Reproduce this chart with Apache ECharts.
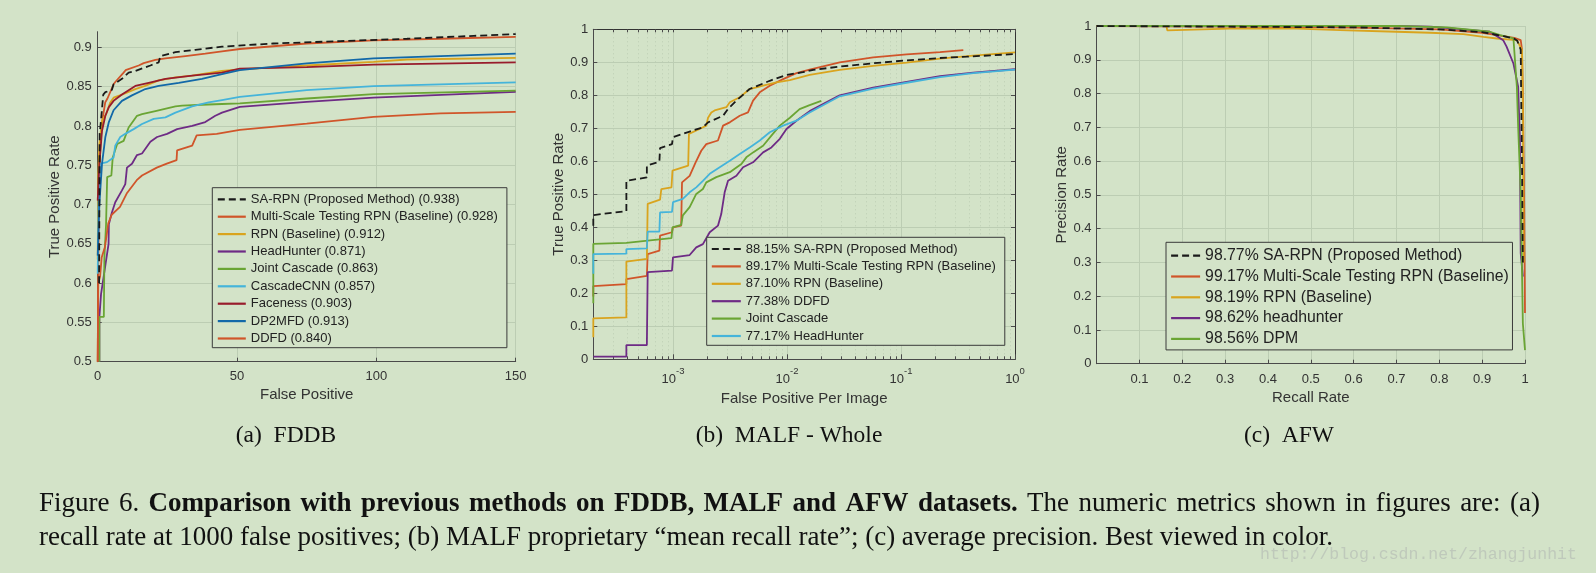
<!DOCTYPE html>
<html><head><meta charset="utf-8">
<script src="https://cdn.jsdelivr.net/npm/echarts/dist/echarts.min.js"></script>
<style>html,body{margin:0;padding:0;background:#d3e3c8;}#c{width:1596px;height:573px;}</style>
</head><body><div id="c"></div>
<script>
// ---------------- DATA ----------------
// (a) FDDB : [false positives, true positive rate]
const fddbSaRpn = [[0.5,0.6],[0.6,0.7],[0.7,0.79],[1.0,0.80],[2.0,0.84],[2.75,0.843],[5.1,0.846],[5.7,0.853],[8.7,0.86],[11.1,0.868],[13.5,0.87],[18.9,0.877],[21.9,0.881],[22.5,0.889],[27.9,0.894],[35,0.897],[44.6,0.901],[63,0.905],[87,0.908],[111,0.911],[135,0.9147],[150,0.917]];
const fddbMulti = [[0,0.5],[0.2,0.62],[0.5,0.72],[1.0,0.78],[1.8,0.81],[2.7,0.83],[3.5,0.835],[5.7,0.853],[6.3,0.856],[9.3,0.868],[10,0.871],[14.7,0.877],[16.5,0.88],[20.7,0.884],[24.3,0.886],[31.5,0.889],[38.6,0.892],[44.6,0.895],[51,0.898],[75,0.905],[99,0.909],[123,0.911],[150,0.9135]];
const fddbRpn = [[0,0.63],[0.2,0.739],[0.6,0.777],[1.55,0.807],[3.0,0.815],[4.5,0.83],[5.7,0.836],[8.7,0.84],[13.5,0.847],[17,0.851],[21.9,0.858],[27.9,0.862],[33.9,0.864],[44.6,0.87],[51,0.872],[75,0.877],[99,0.8817],[111,0.8846],[150,0.8868]];
const fddbHeadHunter = [[0.6,0.5],[0.6,0.557],[1.2,0.586],[2.8,0.624],[3.9,0.65],[4.0,0.675],[5.1,0.69],[6.3,0.703],[8.7,0.718],[9.9,0.726],[10.5,0.747],[12.3,0.752],[14.1,0.763],[15.9,0.765],[18.9,0.78],[21.3,0.786],[24.9,0.79],[28.5,0.796],[33.9,0.8],[38.6,0.805],[42.2,0.813],[44.6,0.817],[51,0.8244],[75,0.8308],[99,0.836],[150,0.8435]];
const fddbJoint = [[0.6,0.5],[0.6,0.557],[2.2,0.557],[2.4,0.633],[3.0,0.675],[3.4,0.735],[4.9,0.737],[5.4,0.76],[7.0,0.777],[9.3,0.781],[11.1,0.798],[12.9,0.807],[14.1,0.813],[15.9,0.815],[20.7,0.819],[27.9,0.825],[30.3,0.826],[37.4,0.827],[44.6,0.828],[51,0.8287],[75,0.835],[99,0.8405],[150,0.845]];
const fddbCascadeCnn = [[0,0.612],[0.35,0.705],[0.95,0.752],[3.35,0.754],[5.7,0.76],[6.3,0.775],[8.1,0.786],[9.9,0.79],[12.9,0.796],[15.9,0.8025],[20.1,0.809],[24.3,0.811],[27.9,0.817],[33.9,0.825],[39.8,0.83],[44.6,0.833],[51,0.837],[75,0.8456],[99,0.8507],[150,0.8554]];
const fddbFaceness = [[0,0.705],[0.6,0.752],[1.55,0.794],[2.75,0.813],[4.0,0.824],[5.7,0.832],[8.7,0.84],[13.5,0.851],[18.3,0.855],[24.3,0.86],[33.9,0.864],[44.6,0.868],[51,0.873],[75,0.875],[99,0.878],[150,0.881]];
const fddbDp2mfd = [[0,0.635],[0.6,0.70],[1.55,0.752],[2.75,0.786],[4.0,0.805],[5.7,0.82],[8.7,0.832],[12.3,0.839],[17.1,0.847],[21.9,0.851],[29.1,0.855],[37.4,0.86],[44.6,0.866],[51,0.871],[75,0.8796],[99,0.886],[123,0.889],[150,0.892]];
const fddbDdfd = [[0,0.5],[0.2,0.6],[0.84,0.608],[1.44,0.633],[2.6,0.646],[3.8,0.676],[5.0,0.687],[8.0,0.697],[10.4,0.714],[14,0.731],[15.9,0.737],[21.2,0.747],[24.8,0.752],[28.3,0.7566],[28.5,0.769],[33.9,0.775],[35.5,0.788],[42.7,0.79],[51,0.795],[75,0.803],[99,0.8117],[123,0.816],[150,0.818]];
const fddbNames = ['SA-RPN (Proposed Method) (0.938)','Multi-Scale Testing RPN (Baseline) (0.928)','RPN (Baseline) (0.912)','HeadHunter (0.871)','Joint Cascade (0.863)','CascadeCNN (0.857)','Faceness (0.903)','DP2MFD (0.913)','DDFD (0.840)'];
const fddbXTicks = [0, 50, 100, 150];
const fddbYTicks = [0.5,0.55,0.6,0.65,0.7,0.75,0.8,0.85,0.9];

// (b) MALF : [false positives per image, true positive rate]
const malfSaRpn = [[2e-4,0.405],[2e-4,0.437],[3.9e-4,0.449],[3.9e-4,0.541],[5.9e-4,0.551],[5.9e-4,0.587],[7.6e-4,0.599],[7.7e-4,0.64],[9.8e-4,0.652],[1e-3,0.673],[1.4e-3,0.69],[1.83e-3,0.703],[2.03e-3,0.718],[2.75e-3,0.738],[3.04e-3,0.759],[3.6e-3,0.784],[4.7e-3,0.819],[7.06e-3,0.844],[9.9e-3,0.862],[1.38e-2,0.87],[1.7e-2,0.877],[2.9e-2,0.887],[5.7e-2,0.897],[0.112,0.906],[0.22,0.913],[0.376,0.917],[1,0.925]];
const malfMulti = [[2e-4,0.19],[2e-4,0.222],[3.9e-4,0.228],[3.9e-4,0.243],[5.9e-4,0.253],[6e-4,0.319],[7.6e-4,0.329],[7.7e-4,0.375],[9.8e-4,0.385],[1e-3,0.4],[1.18e-3,0.405],[1.2e-3,0.536],[1.4e-3,0.556],[1.58e-3,0.597],[1.77e-3,0.632],[1.96e-3,0.652],[2.48e-3,0.663],[2.75e-3,0.708],[3.15e-3,0.718],[3.85e-3,0.738],[4.55e-3,0.748],[5.04e-3,0.784],[5.77e-3,0.809],[7.06e-3,0.829],[9.25e-3,0.849],[1.21e-2,0.867],[1.58e-2,0.878],[2.9e-2,0.9],[5.7e-2,0.915],[0.112,0.924],[0.22,0.931],[0.352,0.937]];
const malfRpn = [[2e-4,0.067],[2e-4,0.124],[3.9e-4,0.127],[3.9e-4,0.296],[5.9e-4,0.304],[6e-4,0.471],[7.7e-4,0.484],[7.9e-4,0.516],[9.7e-4,0.521],[9.9e-4,0.572],[1.36e-3,0.587],[1.38e-3,0.683],[1.71e-3,0.698],[1.96e-3,0.708],[2.03e-3,0.732],[2.17e-3,0.748],[2.32e-3,0.754],[2.94e-3,0.764],[3.15e-3,0.779],[3.85e-3,0.794],[4.71e-3,0.819],[6.17e-3,0.829],[8.07e-3,0.839],[1.06e-2,0.846],[1.58e-2,0.862],[2.9e-2,0.877],[5.7e-2,0.889],[0.112,0.899],[0.22,0.911],[0.43,0.92],[1,0.93]];
const malfDdfd = [[2e-4,0.008],[3.9e-4,0.008],[3.9e-4,0.043],[5.9e-4,0.043],[6e-4,0.264],[9.8e-4,0.269],[1e-3,0.309],[1.4e-3,0.316],[1.6e-3,0.339],[1.83e-3,0.349],[2.1e-3,0.385],[2.48e-3,0.405],[2.65e-3,0.44],[2.84e-3,0.506],[3.04e-3,0.541],[3.6e-3,0.556],[4.12e-3,0.582],[5.04e-3,0.597],[6.17e-3,0.627],[7.3e-3,0.642],[8.65e-3,0.668],[9.9e-3,0.698],[1.21e-2,0.723],[1.58e-2,0.752],[2.9e-2,0.8],[5.7e-2,0.823],[0.112,0.841],[0.22,0.858],[0.43,0.869],[1,0.879]];
const malfJoint = [[2e-4,0.17],[2e-4,0.35],[3.9e-4,0.353],[4e-4,0.357],[9.7e-4,0.367],[9.9e-4,0.4],[1.18e-3,0.407],[1.22e-3,0.436],[1.4e-3,0.461],[1.6e-3,0.501],[1.83e-3,0.516],[1.96e-3,0.536],[2.4e-3,0.552],[3.15e-3,0.567],[3.98e-3,0.592],[4.4e-3,0.612],[5.04e-3,0.627],[6.17e-3,0.647],[7.3e-3,0.678],[8.65e-3,0.708],[1.06e-2,0.732],[1.29e-2,0.758],[1.58e-2,0.77],[2.0e-2,0.783]];
const malfHeadHunter = [[2e-4,0.259],[2e-4,0.319],[3.9e-4,0.32],[3.9e-4,0.334],[5.9e-4,0.336],[6e-4,0.387],[7.6e-4,0.387],[7.7e-4,0.445],[9.8e-4,0.447],[1e-3,0.476],[1.22e-3,0.486],[1.4e-3,0.506],[1.6e-3,0.521],[1.83e-3,0.541],[2.1e-3,0.562],[2.57e-3,0.582],[3.15e-3,0.602],[3.85e-3,0.622],[4.71e-3,0.642],[5.77e-3,0.663],[7.06e-3,0.688],[9.25e-3,0.708],[1.21e-2,0.723],[1.58e-2,0.748],[2.9e-2,0.797],[5.7e-2,0.82],[0.112,0.838],[0.22,0.855],[0.43,0.867],[1,0.878]];
const malfNames = ['88.15% SA-RPN (Proposed Method)','89.17% Multi-Scale Testing RPN (Baseline)','87.10% RPN (Baseline)','77.38% DDFD','Joint Cascade','77.17% HeadHunter'];
const malfXMin = 2e-4;
const malfXTickExponents = [-3, -2, -1, 0];
const malfYTicks = [0,0.1,0.2,0.3,0.4,0.5,0.6,0.7,0.8,0.9,1];

// (c) AFW : [recall, precision]
const afwSaRpn = [[0,1],[0.3,0.998],[0.6,0.996],[0.8,0.99],[0.9,0.982],[0.95,0.97],[0.975,0.962],[0.982,0.956],[0.99,0.93],[0.991,0.8],[0.993,0.6],[0.995,0.3]];
const afwMulti = [[0,1],[0.3,0.998],[0.6,0.995],[0.8,0.99],[0.9,0.98],[0.95,0.97],[0.975,0.965],[0.99,0.958],[0.993,0.93],[0.995,0.8],[0.997,0.6],[0.998,0.48],[1.0,0.48],[1.0,0.15]];
const afwRpn = [[0,1],[0.163,1],[0.165,0.987],[0.311,0.992],[0.467,0.992],[0.568,0.988],[0.70,0.983],[0.778,0.98],[0.856,0.976],[0.903,0.968],[0.934,0.963],[0.981,0.958],[0.993,0.929],[0.995,0.77],[0.997,0.3]];
const afwHeadhunter = [[0,1],[0.693,1],[0.78,0.998],[0.856,0.99],[0.918,0.983],[0.949,0.958],[0.957,0.939],[0.973,0.889],[0.984,0.82],[0.988,0.672],[0.99,0.327],[0.995,0.258]];
const afwDpm = [[0,1],[0.70,1],[0.817,0.996],[0.918,0.983],[0.942,0.973],[0.973,0.963],[0.977,0.958],[0.981,0.82],[0.984,0.702],[0.99,0.504],[0.995,0.119],[1.0,0.04]];
const afwNames = ['98.77% SA-RPN (Proposed Method)','99.17% Multi-Scale Testing RPN (Baseline)','98.19% RPN (Baseline)','98.62% headhunter','98.56% DPM'];

const subCaptions = ['(a)  FDDB', '(b)  MALF - Whole', '(c)  AFW'];
const captionLine1Regular1 = 'Figure 6.';
const captionLine1Bold = 'Comparison with previous methods on FDDB, MALF and AFW datasets.';
const captionLine1Regular2 = 'The numeric metrics shown in figures are: (a)';
const captionLine2 = 'recall rate at 1000 false positives; (b) MALF proprietary \u201cmean recall rate\u201d; (c) average precision. Best viewed in color.';
const watermark = 'http://blog.csdn.net/zhangjunhit';

// ---------------- STYLE ----------------
const BG = '#d3e3c8', GRID = '#bccdb3', AX = '#4a4a4a', TXT = '#333';
const SANS = '"Liberation Sans", Arial, sans-serif';
const SERIF = '"Liberation Serif", "Times New Roman", serif';
const MONO = '"Liberation Mono", monospace';
const C = {black:'#1a1a1a', red:'#d0552a', yellow:'#d9a41e', purple:'#6e2b85', green:'#6aa534', cyan:'#45b4da', dred:'#981c2c', blue:'#1268a8'};

const LOGMIN = Math.log10(malfXMin);
const malfMinor = [];
for (let n = -4; n <= -1; n++) for (let k = 2; k <= 9; k++) {
  const v = Math.log10(k * Math.pow(10, n));
  if (v > LOGMIN + 1e-6 && v < 0) malfMinor.push(v);
}

function line(name, data, color, xi, yi, dashed, z) {
  return {type:'line', name, data, xAxisIndex:xi, yAxisIndex:yi, symbol:'none', showSymbol:false,
    lineStyle:{color, width:1.8, type: dashed ? [7,4] : 'solid'}, itemStyle:{color},
    z: z || 2, silent:true, animation:false, emphasis:{disabled:true}};
}
const lg = d => d.map(p => [Math.log10(p[0]), p[1]]);

const labelBase = {fontFamily:SANS, fontSize:13, color:TXT};
const nameBase = {fontFamily:SANS, fontSize:15, color:TXT};

function valAxis(o) {
  return Object.assign({type:'value', axisLine:{show:true, onZero:false, lineStyle:{color:AX, width:1}},
    axisTick:{show:true, inside:true, length:4, lineStyle:{color:AX}},
    splitLine:{show:true, lineStyle:{color:GRID, width:1}},
    axisLabel:Object.assign({}, labelBase), nameTextStyle:nameBase, nameLocation:'middle'}, o);
}
function legendBox(o) {
  return Object.assign({orient:'vertical', borderColor:'#3a3a3a', borderWidth:1, backgroundColor:BG, borderRadius:0,
    selectedMode:false, itemStyle:{opacity:0, borderWidth:0}, lineStyle:{opacity:1, width:2.2}}, o);
}

const option = {
  backgroundColor: BG,
  animation: false,
  grid: [
    {left:97.7, top:31.7, width:418, height:330, containLabel:false, outerBoundsMode:'none'},
    {left:593.3, top:29.3, width:421.7, height:330, containLabel:false, outerBoundsMode:'none'},
    {left:1096.6, top:26, width:428.4, height:337.7, containLabel:false, outerBoundsMode:'none'}
  ],
  xAxis: [
    valAxis({gridIndex:0, position:'bottom', min:fddbXTicks[0], max:fddbXTicks[fddbXTicks.length-1], interval:50, name:'False Positive', nameGap:24,
      axisLabel:Object.assign({}, labelBase, {margin:8})}),
    valAxis({gridIndex:1, position:'bottom', min:LOGMIN, max:0, name:'False Positive Per Image', nameGap:25,
      axisTick:{show:true, inside:true, length:5, lineStyle:{color:AX}, customValues:malfXTickExponents},
      axisLabel:{customValues:malfXTickExponents, margin:7, formatter: v => '{b|10}{s|' + Math.round(v) + '}',
        rich:{b:{fontFamily:SANS, fontSize:13, color:TXT, lineHeight:20, verticalAlign:'bottom'},
              s:{fontFamily:SANS, fontSize:9.5, color:TXT, lineHeight:10, verticalAlign:'top'}}}}),
    valAxis({gridIndex:1, position:'bottom', min:LOGMIN, max:0, axisLine:{show:false},
      axisTick:{show:true, inside:true, length:3, lineStyle:{color:AX}, customValues:malfMinor},
      splitLine:{show:true, lineStyle:{color:GRID, width:1, type:[1,3]}}, axisLabel:{show:false}}),
    valAxis({gridIndex:1, position:'top', min:LOGMIN, max:0, axisLine:{show:true, onZero:false, lineStyle:{color:'#333'}},
      axisTick:{show:true, inside:true, length:3, lineStyle:{color:AX}, customValues:malfXTickExponents.concat(malfMinor)},
      splitLine:{show:false}, axisLabel:{show:false}}),
    valAxis({gridIndex:2, position:'bottom', min:0, max:1, interval:0.1, name:'Recall Rate', nameGap:20,
      axisLabel:Object.assign({}, labelBase, {margin:9, showMinLabel:false})})
  ],
  yAxis: [
    valAxis({gridIndex:0, position:'left', min:0.5, max:0.92, name:'True Positive Rate', nameGap:35,
      axisTick:{show:true, inside:true, length:4, lineStyle:{color:AX}, customValues:fddbYTicks},
      axisLabel:Object.assign({}, labelBase, {margin:6, customValues:fddbYTicks})}),
    valAxis({gridIndex:1, position:'left', min:0, max:1, interval:0.1, name:'True Positive Rate', nameGap:25,
      axisLabel:Object.assign({}, labelBase, {margin:5})}),
    valAxis({gridIndex:1, position:'right', min:0, max:1, interval:0.1, axisLine:{show:true, onZero:false, lineStyle:{color:'#333'}},
      splitLine:{show:false}, axisLabel:{show:false}}),
    valAxis({gridIndex:2, position:'left', min:0, max:1, interval:0.1, name:'Precision Rate', nameGap:26,
      axisLabel:Object.assign({}, labelBase, {margin:5})})
  ],
  legend: [
    legendBox({data:fddbNames, left:212.3, top:187.7, padding:[4.6,9,2.2,4.4], itemWidth:28, itemHeight:14, itemGap:3.4, itemTextGap:3.3,
      textStyle:{fontFamily:SANS, fontSize:13, color:'#222', lineHeight:14}}),
    legendBox({data:malfNames, left:706.7, top:237.3, padding:[4.7,9,2.3,4], itemWidth:29, itemHeight:14, itemGap:3.4, itemTextGap:2.7,
      textStyle:{fontFamily:SANS, fontSize:13, color:'#222', lineHeight:14}}),
    legendBox({data:afwNames, left:1166, top:242.3, padding:[4.9,3.6,2.5,4], itemWidth:29, itemHeight:17, itemGap:3.8, itemTextGap:3.4,
      textStyle:{fontFamily:SANS, fontSize:15.8, color:'#222', lineHeight:17}})
  ],
  series: [
    line(fddbNames[1], fddbMulti, C.red, 0, 0),
    line(fddbNames[2], fddbRpn, C.yellow, 0, 0),
    line(fddbNames[3], fddbHeadHunter, C.purple, 0, 0),
    line(fddbNames[4], fddbJoint, C.green, 0, 0),
    line(fddbNames[5], fddbCascadeCnn, C.cyan, 0, 0),
    line(fddbNames[6], fddbFaceness, C.dred, 0, 0),
    line(fddbNames[7], fddbDp2mfd, C.blue, 0, 0),
    line(fddbNames[8], fddbDdfd, C.red, 0, 0),
    line(fddbNames[0], fddbSaRpn, C.black, 0, 0, true, 3),

    line(malfNames[1], lg(malfMulti), C.red, 1, 1),
    line(malfNames[2], lg(malfRpn), C.yellow, 1, 1),
    line(malfNames[3], lg(malfDdfd), C.purple, 1, 1),
    line(malfNames[4], lg(malfJoint), C.green, 1, 1),
    line(malfNames[5], lg(malfHeadHunter), C.cyan, 1, 1),
    line(malfNames[0], lg(malfSaRpn), C.black, 1, 1, true, 3),

    line(afwNames[1], afwMulti, C.red, 4, 3),
    line(afwNames[2], afwRpn, C.yellow, 4, 3),
    line(afwNames[3], afwHeadhunter, C.purple, 4, 3),
    line(afwNames[4], afwDpm, C.green, 4, 3),
    line(afwNames[0], afwSaRpn, C.black, 4, 3, true, 3)
  ],
  graphic: []
};

// ---------- captions (text) ----------
function txt(text, x, y, font, align, color) {
  return {type:'text', x, y, silent:true, style:{text, font, fill:color || '#111', align:align, textAlign:align, verticalAlign:'middle', textVerticalAlign:'middle'}};
}
const SUBFONT = '23.5px ' + SERIF;
option.graphic.push(txt(subCaptions[0], 286, 436, SUBFONT, 'center'));
option.graphic.push(txt(subCaptions[1], 789, 436, SUBFONT, 'center'));
option.graphic.push(txt(subCaptions[2], 1289, 436, SUBFONT, 'center'));

const CAPREG = '27px ' + SERIF, CAPBOLD = 'bold 27px ' + SERIF;
const ctx = document.createElement('canvas').getContext('2d');
const words = [];
captionLine1Regular1.split(' ').forEach(w => words.push([w, CAPREG]));
captionLine1Bold.split(' ').forEach(w => words.push([w, CAPBOLD]));
captionLine1Regular2.split(' ').forEach(w => words.push([w, CAPREG]));
let total = 0;
words.forEach(w => { ctx.font = w[1]; w.push(ctx.measureText(w[0]).width); total += w[2]; });
const L = 39, R = 1540;
const gap = (R - L - total) / (words.length - 1);
let cx = L;
words.forEach(w => { option.graphic.push(txt(w[0], cx, 504, w[1], 'left')); cx += w[2] + gap; });
option.graphic.push(txt(captionLine2, 39, 538, CAPREG, 'left'));
option.graphic.push(txt(watermark, 1260, 555, '16.5px ' + MONO, 'left', '#bfc9bb'));

const chart = echarts.init(document.getElementById('c'), null, {renderer:'canvas'});
chart.setOption(option);
</script></body></html>
